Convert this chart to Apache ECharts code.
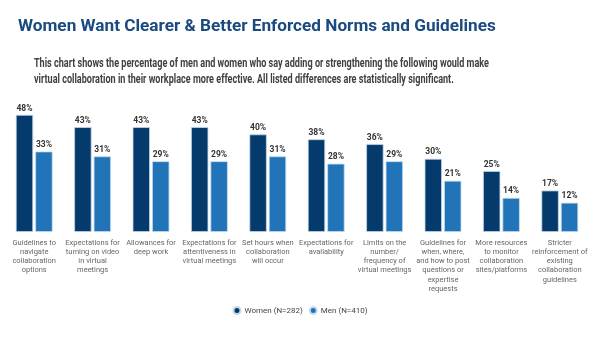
<!DOCTYPE html>
<html><head><meta charset="utf-8">
<script src="https://cdn.jsdelivr.net/npm/echarts@6/dist/echarts.min.js"></script>
<style>html,body{margin:0;padding:0;background:#fff}#c{width:600px;height:338px}</style>
</head><body><div id="c"></div>
<script>
const categories = [
  "Guidelines to\nnavigate\ncollaboration\noptions",
  "Expectations for\nturning on video\nin virtual\nmeetings",
  "Allowances for\ndeep work",
  "Expectations for\nattentiveness in\nvirtual meetings",
  "Set hours when\ncollaboration\nwill occur",
  "Expectations for\navailability",
  "Limits on the\nnumber/\nfrequency of\nvirtual meetings",
  "Guidelines for\nwhen, where,\nand how to post\nquestions or\nexpertise\nrequests",
  "More resources\nto monitor\ncollaboration\nsites/platforms",
  "Stricter\nreinforcement of\nexisting\ncollaboration\nguidelines"
];
const women = [48, 43, 43, 43, 40, 38, 36, 30, 25, 17];
const men = [33, 31, 29, 29, 31, 28, 29, 21, 14, 12];
const seriesNames = ["Women (N=282)", "Men (N=410)"];
const titleText = "Women Want Clearer & Better Enforced Norms and Guidelines";
const subtitleLines = [
  "This chart shows the percentage of men and women who say adding or strengthening the following would make",
  "virtual collaboration in their workplace more effective. All listed differences are statistically significant."
];

const subFont = 'bold 12px Roboto';
const ctx = document.createElement('canvas').getContext('2d');
ctx.font = subFont;
const targetWidth = 455;
const sx = targetWidth / ctx.measureText(subtitleLines[0]).width;

const chart = echarts.init(document.getElementById('c'));
const labelStyle = {show: true, position: 'top', distance: 2, formatter: '{c}%', fontFamily: 'Roboto', fontWeight: 'bold', fontSize: 8.5, color: '#333'};
chart.setOption({
  animation: false,
  title: [
    {text: titleText, left: 13, top: 13, textStyle: {fontFamily: 'Roboto', fontWeight: 'bold', fontSize: 17.2, color: '#1a4a80'}},
  ],
  graphic: [{
    type: 'text', x: 34, y: 55.5, scaleX: sx, scaleY: 1,
    style: {text: subtitleLines.join('\n'), font: subFont, lineHeight: 16.5, fill: '#404040'}
  }],
  legend: {
    top: 301, left: 'center', icon: 'circle', itemWidth: 7, itemHeight: 7, itemGap: 6,
    textStyle: {fontFamily: 'Roboto', fontSize: 8, color: '#444', padding: [0,0,0,-1]},
    data: seriesNames
  },
  grid: {left: 5, right: 11, top: 110, bottom: 106},
  xAxis: {
    type: 'category', data: categories,
    axisLine: {show: false}, axisTick: {show: false},
    axisLabel: {interval: 0, fontFamily: 'Roboto', fontSize: 7.5, lineHeight: 9.3, color: '#666', margin: 6}
  },
  yAxis: {type: 'value', min: 0, max: 50, show: false, splitLine: {show: false}},
  series: [
    {name: seriesNames[0], type: 'bar', data: women, barGap: '12%', barCategoryGap: '37%',
     itemStyle: {color: '#043a6c', borderColor: '#c5d6e8', borderWidth: 0.8}, label: labelStyle},
    {name: seriesNames[1], type: 'bar', data: men,
     itemStyle: {color: '#2074b7', borderColor: '#c5dcf0', borderWidth: 0.8}, label: labelStyle}
  ]
});
</script></body></html>
